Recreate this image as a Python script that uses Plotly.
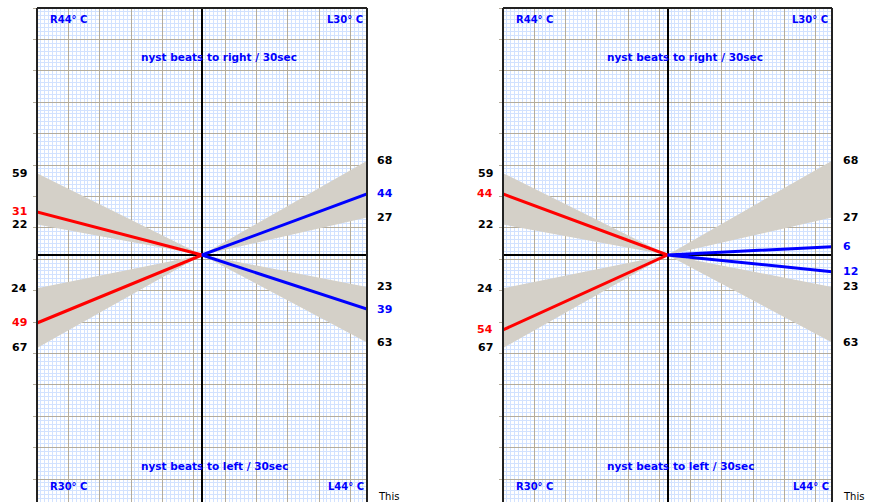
import plotly.graph_objects as go

# Per-panel measured values (upper / lower limb of each side)
red_upper = [31, 44]
red_lower = [49, 54]
blue_upper = [44, 6]
blue_lower = [39, 12]

# Normal ranges drawn as grey fans (same in both panels)
left_upper_range = [22, 59]
left_lower_range = [24, 67]
right_upper_range = [27, 68]
right_lower_range = [23, 63]

corner_top_left = ["R44° C", "R44° C"]
corner_top_right = ["L30° C", "L30° C"]
corner_bottom_left = ["R30° C", "R30° C"]
corner_bottom_right = ["L44° C", "L44° C"]
title_top = ["nyst beats to right / 30sec", "nyst beats to right / 30sec"]
title_bottom = ["nyst beats to left / 30sec", "nyst beats to left / 30sec"]
side_note = ["This", "This"]

YMAX = 178.0
MAJOR_Y = 22.63
MAJOR_X = 0.19

FAN = "#d4d0c8"
MAJOR_GRID = "#b4ac9c"
MINOR_GRID = "#d2e2ff"
BLUE = "#0000ff"
RED = "#ff0000"
FONT = "DejaVu Sans"

x_domains = [[37 / 871, 367 / 871], [503 / 871, 832 / 871]]
y_domain = [0, 494 / 502]

fig = go.Figure()

for i in range(2):
    xa = "x" if i == 0 else "x2"
    ya = "y" if i == 0 else "y2"
    fans = [
        (-1, left_upper_range[1], left_upper_range[0]),
        (-1, -left_lower_range[0], -left_lower_range[1]),
        (1, right_upper_range[1], right_upper_range[0]),
        (1, -right_lower_range[0], -right_lower_range[1]),
    ]
    for side, a, b in fans:
        fig.add_trace(go.Scatter(
            x=[0, side, side, 0], y=[0, a, b, 0], xaxis=xa, yaxis=ya,
            mode="lines", fill="toself", fillcolor=FAN,
            line=dict(width=0, color=FAN), hoverinfo="skip", showlegend=False))
    fig.add_trace(go.Scatter(
        x=[-1, 0, -1], y=[red_upper[i], 0, -red_lower[i]], xaxis=xa, yaxis=ya,
        mode="lines", line=dict(color=RED, width=3), hoverinfo="skip", showlegend=False))
    fig.add_trace(go.Scatter(
        x=[1, 0, 1], y=[blue_upper[i], 0, -blue_lower[i]], xaxis=xa, yaxis=ya,
        mode="lines", line=dict(color=BLUE, width=3), hoverinfo="skip", showlegend=False))

    xkey = "xaxis" if i == 0 else "xaxis2"
    ykey = "yaxis" if i == 0 else "yaxis2"
    fig.update_layout(**{
        xkey: dict(
            domain=x_domains[i], range=[-1, 1], anchor=ya,
            showticklabels=False, ticks="",
            showgrid=True, gridcolor=MAJOR_GRID, gridwidth=1,
            tick0=-1, dtick=MAJOR_X,
            minor=dict(showgrid=True, gridcolor=MINOR_GRID, gridwidth=1,
                       tick0=-1, dtick=MAJOR_X / 8),
            zeroline=True, zerolinecolor="#000000", zerolinewidth=1.5,
            showline=False, fixedrange=True),
        ykey: dict(
            domain=y_domain, range=[-YMAX, YMAX], anchor=xa,
            showticklabels=False, ticks="outside", ticklen=3,
            tickcolor=MAJOR_GRID, tickwidth=1,
            showgrid=True, gridcolor=MAJOR_GRID, gridwidth=1,
            tick0=YMAX, dtick=MAJOR_Y,
            minor=dict(showgrid=True, gridcolor=MINOR_GRID, gridwidth=1,
                       tick0=YMAX, dtick=MAJOR_Y / 8),
            zeroline=True, zerolinecolor="#000000", zerolinewidth=1.5,
            showline=False, fixedrange=True),
    })

    # panel frame: left, right and top edges
    for x0, y0, x1, y1 in [(0, 0, 0, 1), (1, 0, 1, 1), (0, 1, 1, 1)]:
        fig.add_shape(type="line", xref=f"{xa} domain", yref=f"{ya} domain",
                      x0=x0, y0=y0, x1=x1, y1=y1,
                      line=dict(color="#222222", width=2))

    def note(text, x, y, color, xanchor="center", xshift=0, size=11):
        fig.add_annotation(text=text, x=x, y=y, xref=xa, yref=ya, showarrow=False,
                           xanchor=xanchor, yanchor="middle", xshift=xshift,
                           font=dict(family=FONT, size=size, color=color))

    note(f"<b>{corner_top_left[i]}</b>", -0.935, 170, BLUE, "left", size=10)
    note(f"<b>{corner_top_right[i]}</b>", 0.985, 170, BLUE, "right", size=10)
    note(f"<b>{corner_bottom_left[i]}</b>", -0.935, -167, BLUE, "left", size=10)
    note(f"<b>{corner_bottom_right[i]}</b>", 0.995, -167, BLUE, "right", size=10)
    note(f"<b>{title_top[i]}</b>", -0.38, 143, BLUE, "left", size=10.5)
    note(f"<b>{title_bottom[i]}</b>", -0.38, -152, BLUE, "left", size=10.5)

    # scale values on the left edge
    for v, c in [(left_upper_range[1], "#000"), (red_upper[i], RED),
                 (left_upper_range[0], "#000"), (-left_lower_range[0], "#000"),
                 (-red_lower[i], RED), (-left_lower_range[1], "#000")]:
        note(f"<b>{abs(v)}</b>", -1, v, c, "right", xshift=-8)
    # scale values on the right edge
    for v, c in [(right_upper_range[1], "#000"), (blue_upper[i], BLUE),
                 (right_upper_range[0], "#000"), (-right_lower_range[0], "#000"),
                 (-blue_lower[i], BLUE), (-right_lower_range[1], "#000")]:
        note(f"<b>{abs(v)}</b>", 1, v, c, "left", xshift=8 if i == 0 else 9)

    note(side_note[i], 1, -174, "#000", "left", xshift=9, size=10)

fig.update_layout(
    width=871, height=502,
    margin=dict(l=0, r=0, t=0, b=0),
    paper_bgcolor="white", plot_bgcolor="white",
    showlegend=False,
)

fig.write_html("out.html")
